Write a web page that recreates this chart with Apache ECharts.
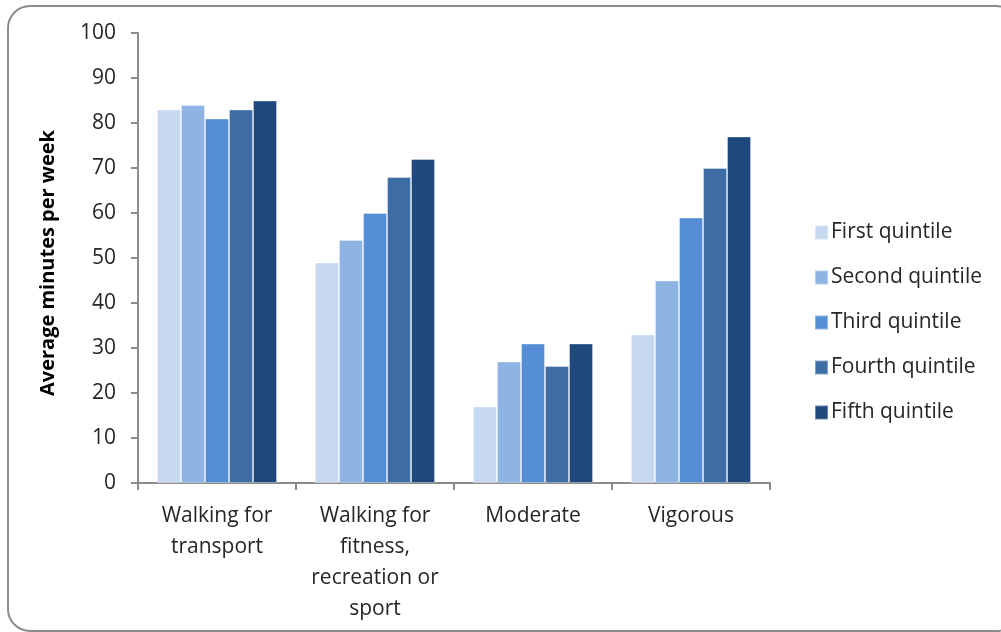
<!DOCTYPE html>
<html>
<head>
<meta charset="utf-8">
<script src="https://cdn.jsdelivr.net/npm/echarts@6/dist/echarts.min.js"></script>
<style>
html,body{margin:0;padding:0;background:#fff;}
#chart{width:1001px;height:632px;}
</style>
</head>
<body>
<div id="chart"></div>
<script>
var categories = ['Walking for\ntransport', 'Walking for\nfitness,\nrecreation or\nsport', 'Moderate', 'Vigorous'];
var seriesNames = ['First quintile', 'Second quintile', 'Third quintile', 'Fourth quintile', 'Fifth quintile'];
var firstQuintile = [83, 49, 17, 33];
var secondQuintile = [84, 54, 27, 45];
var thirdQuintile = [81, 60, 31, 59];
var fourthQuintile = [83, 68, 26, 70];
var fifthQuintile = [85, 72, 31, 77];
var colors = ['#C6D9F1', '#8EB4E3', '#558ED5', '#3E6DA6', '#1F497D'];
var yTicks = { min: 0, max: 100, interval: 10 };

var allValues = [firstQuintile, secondQuintile, thirdQuintile, fourthQuintile, fifthQuintile];
var font = '"Open Sans", Lato, sans-serif';

var chart = echarts.init(document.getElementById('chart'), null, { renderer: 'canvas' });
chart.setOption({
  animation: false,
  backgroundColor: '#ffffff',
  color: colors,
  graphic: [{
    type: 'rect',
    silent: true,
    shape: { x: 8, y: 6, width: 1010, height: 625, r: 22 },
    style: { fill: 'none', stroke: '#8c8c8c', lineWidth: 2 }
  }],
  grid: { left: 138, right: 231, top: 33, bottom: 149 },
  legend: {
    orient: 'vertical',
    left: 809,
    top: 217,
    itemWidth: 13,
    itemHeight: 14,
    itemGap: 24,
    icon: 'rect',
    data: seriesNames,
    textStyle: { fontFamily: font, fontSize: 21, color: '#262626', lineHeight: 20, padding: [0, 0, 0, -2] }
  },
  xAxis: {
    type: 'category',
    data: categories,
    axisLine: { lineStyle: { color: '#8c8c8c', width: 2 } },
    axisTick: { show: true, length: 7, alignWithLabel: false, lineStyle: { color: '#8c8c8c', width: 2 } },
    axisLabel: { fontFamily: font, fontSize: 21, color: '#262626', lineHeight: 31, margin: 18, interval: 0 }
  },
  yAxis: {
    type: 'value',
    min: yTicks.min,
    max: yTicks.max,
    interval: yTicks.interval,
    name: 'Average minutes per week',
    nameLocation: 'middle',
    nameGap: 80,
    nameRotate: 90,
    nameTextStyle: { fontFamily: font, fontSize: 20, fontWeight: 'bold', color: '#000000', padding: [0, 0, 0, -10] },
    axisLine: { show: true, lineStyle: { color: '#8c8c8c', width: 2 } },
    axisTick: { show: true, length: 7, lineStyle: { color: '#8c8c8c', width: 2 } },
    axisLabel: { fontFamily: font, fontSize: 21, color: '#262626', margin: 22 },
    splitLine: { show: false }
  },
  series: seriesNames.map(function (name, i) {
    return {
      name: name,
      type: 'bar',
      data: allValues[i],
      barGap: '0%',
      barCategoryGap: '24%',
      itemStyle: { color: colors[i], borderColor: 'rgba(255,255,255,0.35)', borderWidth: 1 }
    };
  })
});
</script>
</body>
</html>
